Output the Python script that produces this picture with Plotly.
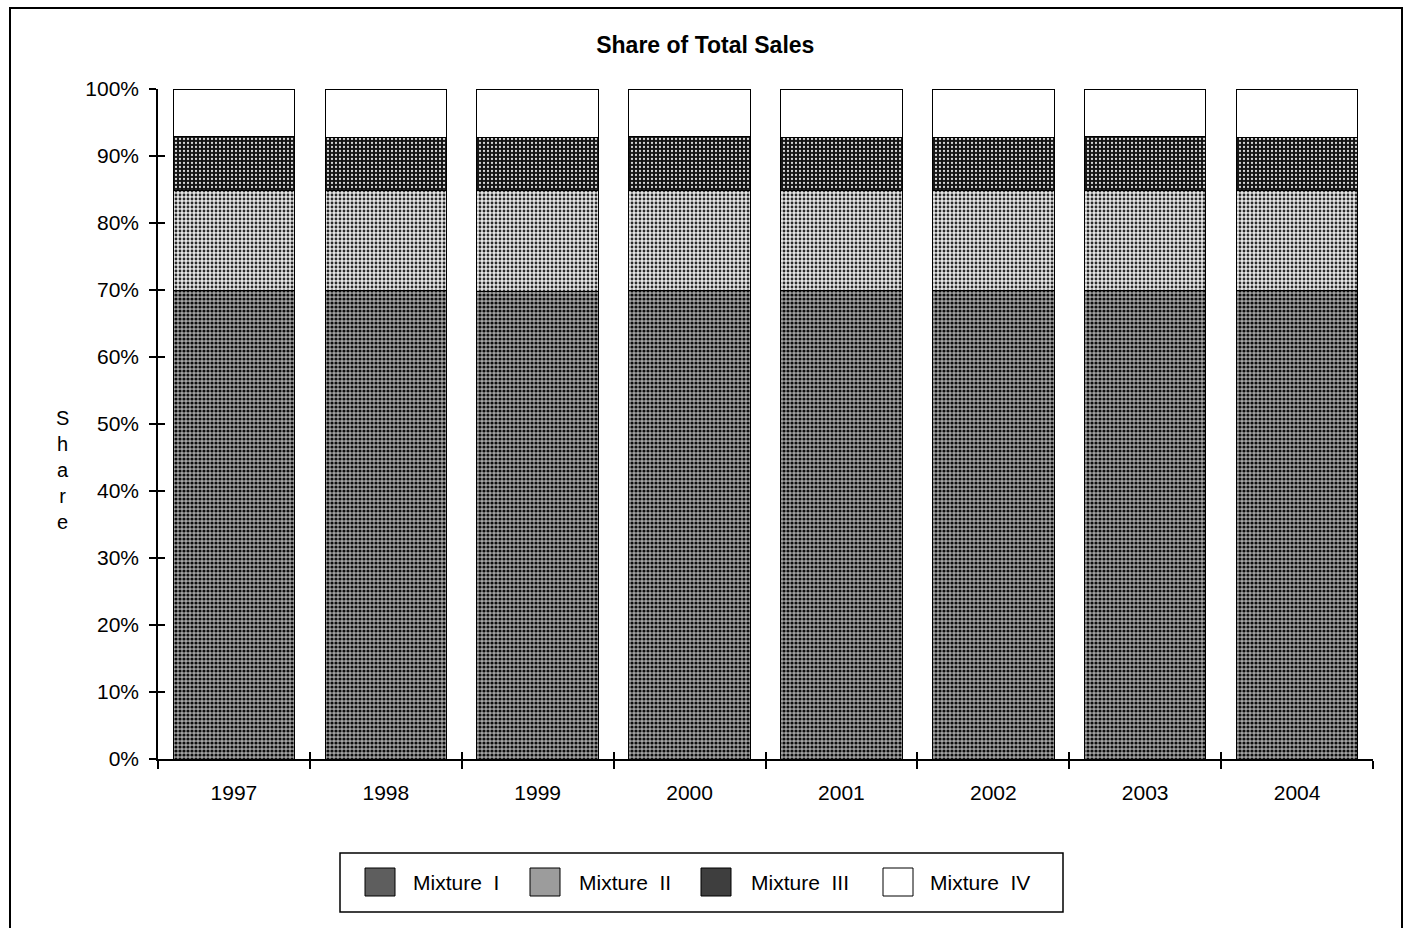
import plotly.graph_objects as go

years = ["1997", "1998", "1999", "2000", "2001", "2002", "2003", "2004"]
mixture_1 = [70.0, 70.0, 69.8, 70.0, 69.9, 69.9, 70.0, 70.0]
mixture_2 = [14.8, 14.8, 15.0, 14.8, 14.9, 14.9, 14.8, 14.8]
mixture_3 = [8.1, 8.0, 8.0, 8.1, 8.0, 8.0, 8.1, 8.0]
mixture_4 = [7.1, 7.2, 7.2, 7.1, 7.2, 7.2, 7.1, 7.2]
names = ["Mixture  I", "Mixture  II", "Mixture  III", "Mixture  IV"]
y_ticks = [0, 10, 20, 30, 40, 50, 60, 70, 80, 90, 100]

# halftone-style fills
patterns = [
    dict(shape=".", fgcolor="#0e0e0e", bgcolor="#a4a4a4", size=4, solidity=0.5),
    dict(shape=".", fgcolor="#2a2a2a", bgcolor="#e6e6e6", size=4, solidity=0.4),
    dict(shape=".", fgcolor="#d8d8d8", bgcolor="#141414", size=4, solidity=0.25),
    None,
]
swatch_fill = ["#5e5e5e", "#9c9c9c", "#3e3e3e", "#ffffff"]

W, H = 1405, 928
L, R, T, B = 158, 32, 89, 169
PW, PH = W - L - R, H - T - B


def px_x(px):
    return (px - L) / PW


def px_y(py):
    return (H - B - py) / PH


font_family = "Liberation Sans, Arial, sans-serif"

fig = go.Figure()
for name, vals, pat in zip(names, [mixture_1, mixture_2, mixture_3, mixture_4], patterns):
    marker = dict(color="#ffffff", line=dict(color="#000000", width=1))
    if pat is not None:
        marker["pattern"] = dict(fillmode="replace", **pat)
    fig.add_trace(go.Bar(x=years, y=vals, name=name, marker=marker, showlegend=False))

# companion trace so the overlay axes (inner half of the crossing ticks) are drawn
fig.add_trace(go.Scatter(x=years, y=[None] * len(years), xaxis="x2", yaxis="y2",
                         mode="markers", showlegend=False, hoverinfo="skip"))

fig.update_layout(
    barmode="stack",
    bargap=0.2,
    width=W,
    height=H,
    margin=dict(l=L, r=R, t=T, b=B),
    paper_bgcolor="#ffffff",
    plot_bgcolor="#ffffff",
    font=dict(family=font_family, size=22, color="#000000"),
    title=dict(
        text="<b>Share of Total Sales</b>",
        x=0.502, xanchor="center", y=1 - 45 / H, yanchor="middle",
        font=dict(size=23, family=font_family, color="#000000"),
    ),
    showlegend=False,
    xaxis=dict(
        type="category", categoryarray=years,
        showline=True, linecolor="#000000", linewidth=1.5,
        ticks="outside", ticklen=8, tickcolor="#000000", tickwidth=1.5,
        tickson="boundaries",
        showgrid=False,
        tickfont=dict(size=21),
        ticklabelstandoff=14,
    ),
    yaxis=dict(
        range=[0, 100],
        tickvals=y_ticks,
        ticktext=[f"{v}%" for v in y_ticks],
        showline=True, linecolor="#000000", linewidth=1.5,
        ticks="outside", ticklen=7, tickcolor="#000000", tickwidth=1.5,
        showgrid=False, zeroline=False,
        tickfont=dict(size=21),
        ticklabelstandoff=6,
    ),
    xaxis2=dict(
        type="category", categoryarray=years, overlaying="x", matches="x",
        anchor="y2", side="bottom",
        showline=False, showgrid=False, showticklabels=False,
        ticks="inside", ticklen=7, tickcolor="#000000", tickwidth=1.5,
        tickson="boundaries",
    ),
    yaxis2=dict(
        range=[0, 100], overlaying="y", anchor="x2", side="left",
        tickvals=y_ticks,
        showline=False, showgrid=False, showticklabels=False, zeroline=False,
        ticks="inside", ticklen=7, tickcolor="#000000", tickwidth=1.5,
    ),
)

# Vertical, letter-stacked axis title
fig.add_annotation(
    text="S<br>h<br>a<br>r<br>e",
    xref="paper", yref="paper",
    x=px_x(62), y=px_y(470), xanchor="center", yanchor="middle",
    showarrow=False,
    font=dict(size=20, family=font_family),
)

# Legend box with swatches and labels
fig.add_shape(type="rect", xref="paper", yref="paper",
              x0=px_x(340), x1=px_x(1063), y0=px_y(912), y1=px_y(853),
              line=dict(color="#000000", width=1.5), fillcolor="#ffffff", layer="below")
swatch_x = [365, 530, 701, 883]
label_x = [411, 577, 749, 928]
for name, fill, sx, lx in zip(names, swatch_fill, swatch_x, label_x):
    fig.add_shape(type="rect", xref="paper", yref="paper",
                  x0=px_x(sx), x1=px_x(sx + 30), y0=px_y(896), y1=px_y(868),
                  line=dict(color="#000000", width=1), fillcolor=fill)
    fig.add_annotation(text=name, xref="paper", yref="paper",
                       x=px_x(lx), y=px_y(882), xanchor="left", yanchor="middle",
                       showarrow=False, font=dict(size=21, family=font_family))

# Outer chart frame
fig.add_shape(type="rect", xref="paper", yref="paper",
              x0=px_x(10), x1=px_x(1402), y0=px_y(940), y1=px_y(8),
              line=dict(color="#000000", width=2), fillcolor="rgba(0,0,0,0)")

fig.write_html("out.html")
